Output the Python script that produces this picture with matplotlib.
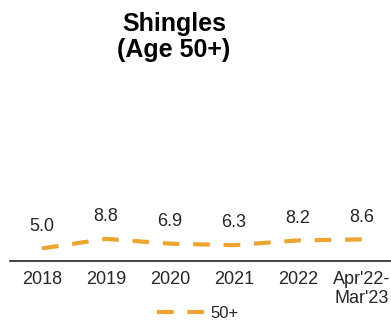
import matplotlib.pyplot as plt
import numpy as np

plt.rcParams['font.family'] = ['Liberation Sans', 'DejaVu Sans']

categories = ['2018', '2019', '2020', '2021', '2022', "Apr'22-\nMar'23"]
values_50 = [5.0, 8.8, 6.9, 6.3, 8.2, 8.6]
line_color = '#EDA531'
text_color = '#262626'

fig = plt.figure(figsize=(3.91, 3.26), dpi=100)
# wide axes that runs past the right edge, y scale kept flat (0-78)
ax = fig.add_axes([10 / 391, 65 / 326, 384 / 391, 196 / 326])

x = np.arange(len(categories))
ax.plot(x, values_50, color=line_color, lw=3.0, dashes=(4, 3.3), label='50+')
for xi, v in zip(x, values_50):
    ax.annotate(f'{v:.1f}', (xi, v), xytext=(0, 16), textcoords='offset points',
                ha='center', va='center', fontsize=13, color=text_color)

ax.set_xlim(-0.5, 5.5)
ax.set_ylim(0, 78)
ax.set_xticks(x)
ax.set_xticklabels(categories, fontsize=13, color=text_color, linespacing=1.15)
ax.tick_params(axis='x', length=0, pad=7)
ax.set_yticks([])
for s in ['top', 'right', 'left']:
    ax.spines[s].set_visible(False)
ax.spines['bottom'].set_color('#222222')
ax.spines['bottom'].set_linewidth(1.2)

fig.text(174 / 391, 1 - 37 / 326, 'Shingles\n(Age 50+)', ha='center', va='center',
         fontsize=18, fontweight='bold', linespacing=1.1)

fig.legend(handles=ax.get_lines(), loc='center', bbox_to_anchor=(198 / 391, 1 - 313 / 326),
           frameon=False, fontsize=12, handlelength=2.8, handletextpad=0.4,
           labelcolor=text_color)

fig.savefig('out.png', dpi=100)
